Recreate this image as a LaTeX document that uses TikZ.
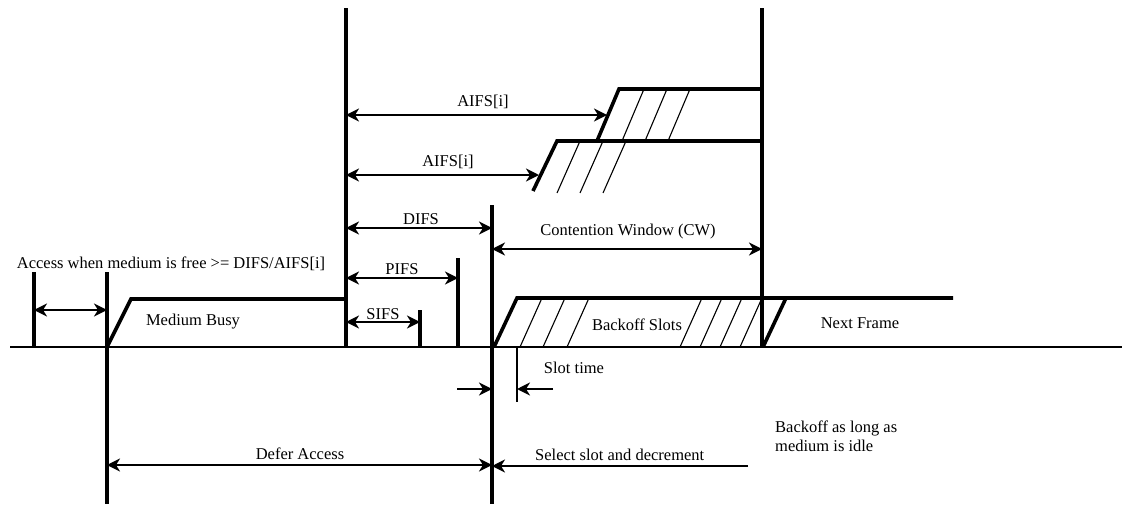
\documentclass[tikz,border=0pt]{standalone}
\usepackage{fontspec}
\setmainfont{Liberation Serif}
\usetikzlibrary{arrows.meta}
\begin{document}
\begin{tikzpicture}[x=1pt,y=-1pt,
  lbl/.style={font=\fontsize{16.5}{19}\selectfont, inner sep=1pt},
  tick/.style={line width=3.6pt},
  frame/.style={line width=3.6pt, line join=miter},
  hatch/.style={line width=1.1pt},
  base/.style={line width=1.8pt},
  dim/.style={line width=2pt, {Stealth[length=13pt,width=13pt,inset=4pt]}-{Stealth[length=13pt,width=13pt,inset=4pt]}},
  onearrow/.style={line width=2pt, -{Stealth[length=13pt,width=13pt,inset=4pt]}},
  thin/.style={line width=1.8pt}]
\useasboundingbox (0,0) rectangle (1122,506);
% baseline
\coordinate (b0) at (10,347);
\coordinate (b1) at (1122,347);
\draw[base] (b0) -- (b1);
% vertical markers
\coordinate (vAt) at (34,272);  \coordinate (vAb) at (34,347);
\coordinate (vBt) at (107,272); \coordinate (vBb) at (107,504);
\coordinate (vCt) at (346,8);   \coordinate (vCb) at (346,347);
\coordinate (vDt) at (492,205); \coordinate (vDb) at (492,504);
\coordinate (vEt) at (762,8);   \coordinate (vEb) at (762,347);
\coordinate (vPt) at (458,258); \coordinate (vPb) at (458,347);
\coordinate (vSt) at (420,310); \coordinate (vSb) at (420,347);
\draw[tick] (vAt) -- (vAb);
\draw[tick] (vBt) -- (vBb);
\draw[tick] (vCt) -- (vCb);
\draw[tick] (vDt) -- (vDb);
\draw[tick] (vEt) -- (vEb);
\draw[tick] (vPt) -- (vPb);
\draw[tick] (vSt) -- (vSb);
% slot time marker
\coordinate (sTt) at (517,347); \coordinate (sTb) at (517,402);
\draw[thin] (sTt) -- (sTb);
% medium busy frame
\coordinate (mb0) at (107,347); \coordinate (mb1) at (131,299); \coordinate (mb2) at (346,299);
\draw[frame] (mb0) -- (mb1) -- (mb2);
% AIFS upper frame
\coordinate (au0) at (597,141); \coordinate (au1) at (619,89); \coordinate (au2) at (762,89);
\draw[frame] (au0) -- (au1) -- (au2);
\foreach \x in {622,645,668} \draw[hatch] (\x,141) -- (\x+22,89);
% AIFS lower frame
\coordinate (al0) at (533,191); \coordinate (al1) at (557,141); \coordinate (al2) at (762,141);
\draw[frame] (al0) -- (al1) -- (al2);
\foreach \x in {557,580,603} \draw[hatch] (\x,193) -- (\x+23,141);
% backoff frame
\coordinate (bo0) at (494,347); \coordinate (bo1) at (517,298); \coordinate (bo2) at (953,298);
\draw[frame] (bo0) -- (bo1) -- (bo2);
\foreach \x in {520,543,567,680,700,720,740} \draw[hatch] (\x,347) -- (\x+22,298);
% next frame slant
\coordinate (nf0) at (763,347); \coordinate (nf1) at (786,298);
\draw[frame] (nf0) -- (nf1);
% dimension arrows
\coordinate (acL) at (34,310);  \coordinate (acR) at (107,310);
\draw[dim] (acL) -- (acR);
\coordinate (a1L) at (346,115); \coordinate (a1R) at (607,115);
\draw[dim] (a1L) -- (a1R);
\coordinate (a2L) at (346,175); \coordinate (a2R) at (539,175);
\draw[dim] (a2L) -- (a2R);
\coordinate (dL) at (346,228);  \coordinate (dR) at (492,228);
\draw[dim] (dL) -- (dR);
\coordinate (pL) at (346,278);  \coordinate (pR) at (458,278);
\draw[dim] (pL) -- (pR);
\coordinate (sL) at (346,322);  \coordinate (sR) at (420,322);
\draw[dim] (sL) -- (sR);
\coordinate (cwL) at (492,249); \coordinate (cwR) at (762,249);
\draw[dim] (cwL) -- (cwR);
\coordinate (stA) at (457,389); \coordinate (stB) at (492,389);
\draw[onearrow] (stA) -- (stB);
\coordinate (stC) at (553,389); \coordinate (stD) at (517,389);
\draw[onearrow] (stC) -- (stD);
\coordinate (daL) at (107,465); \coordinate (daR) at (492,465);
\draw[dim] (daL) -- (daR);
\coordinate (ssA) at (748,466); \coordinate (ssB) at (492,466);
\draw[onearrow] (ssA) -- (ssB);
% labels
\node[lbl] (tAccess) at (171,264) {Access when medium is free >= DIFS/AIFS[i]};
\node[lbl] (tBusy) at (193,322) {Medium Busy};
\node[lbl] (tA1) at (483,102) {AIFS[i]};
\node[lbl] (tA2) at (448,162) {AIFS[i]};
\node[lbl] (tDIFS) at (421,219) {DIFS};
\node[lbl] (tPIFS) at (402,269) {PIFS};
\node[lbl] (tSIFS) at (383,314) {SIFS};
\node[lbl] (tCW) at (628,232) {Contention Window (CW)};
\node[lbl] (tBO) at (637,325) {Backoff Slots};
\node[lbl] (tNF) at (860,323) {Next Frame};
\node[lbl] (tST) at (574,368) {Slot time};
\node[lbl] (tDA) at (300,454) {Defer Access};
\node[lbl, anchor=west] (tSS) at (534,455) {Select slot and decrement};
\node[lbl, anchor=west, align=left] (tBI) at (774,436) {Backoff as long as\\medium is idle};
\end{tikzpicture}
\end{document}
